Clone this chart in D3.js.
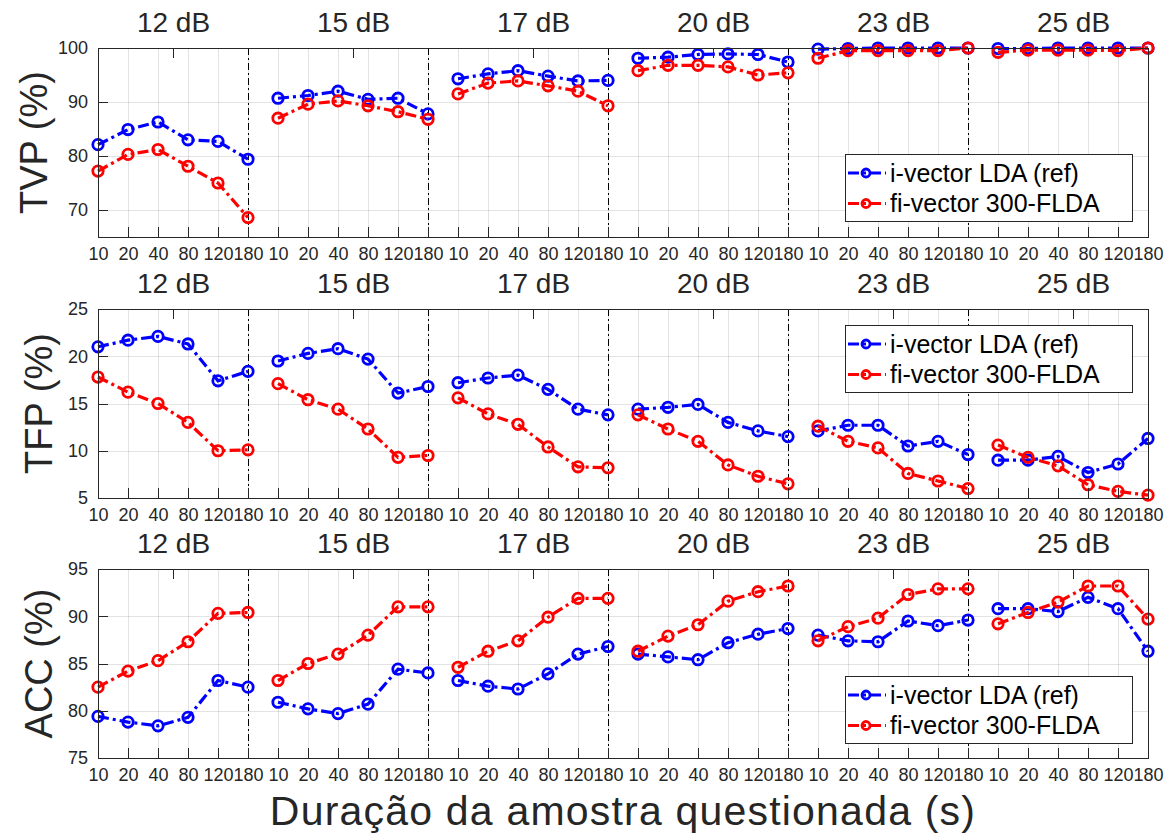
<!DOCTYPE html>
<html lang="pt">
<head>
<meta charset="UTF-8">
<title>TVP, TFP e ACC por SNR e duração</title>
<script src="https://d3js.org/d3.v7.min.js"></script>
<style>
    body { margin: 0; background: #fff; }
    svg { font-family: "Liberation Sans", Arial, Helvetica, sans-serif; }
    .grid line { stroke: #262626; stroke-opacity: 0.13; shape-rendering: crispEdges; }
    .grid path { display: none; }
    .axis path { display: none; }
    .axis line { stroke: #262626; shape-rendering: crispEdges; }
    .axis text { fill: #262626; font-size: 18px; }
    .title-axis text { font-size: 28px; }
    .box { fill: none; stroke: #262626; stroke-width: 1; shape-rendering: crispEdges; }
    .sep { stroke: #000; stroke-width: 1; stroke-dasharray: 7,3,2,3; shape-rendering: crispEdges; }
    .series { fill: none; stroke-width: 3.2; stroke-dasharray: 11,4,3,4; }
    .marker { fill: none; stroke-width: 2.8; }
    .ylabel, .xlabel { fill: #262626; }
    .legend text { font-size: 25px; fill: #000; }
</style>
</head>
<body>
<svg width="1168" height="834"></svg>
<script>
    // categories
    var snrLabels = ["12 dB", "15 dB", "17 dB", "20 dB", "23 dB", "25 dB"];
    var durations = [10, 20, 40, 80, 120, 180];
    var seriesNames = ["i-vector LDA (ref)", "fi-vector 300-FLDA"];
    var seriesColors = ["#0000ff", "#ff0000"];

    // TVP (%) - one row per SNR, one value per duration
    var tvpRef = [
        [82.1, 84.9, 86.3, 83.0, 82.7, 79.4],
        [90.7, 91.2, 92.0, 90.5, 90.7, 87.8],
        [94.3, 95.2, 95.8, 94.8, 93.9, 94.0],
        [98.1, 98.3, 98.8, 98.9, 98.8, 97.4],
        [99.8, 99.9, 100, 100, 100, 100],
        [99.9, 99.9, 100, 100, 100, 100]
    ];
    var tvpFi = [
        [77.2, 80.3, 81.2, 78.1, 75.0, 68.6],
        [87.0, 89.6, 90.2, 89.3, 88.2, 86.8],
        [91.5, 93.5, 93.9, 93.0, 92.0, 89.3],
        [95.8, 96.8, 96.8, 96.5, 95.0, 95.4],
        [98.1, 99.5, 99.5, 99.5, 99.5, 100],
        [99.2, 99.6, 99.6, 99.6, 99.5, 100]
    ];

    // TFP (%)
    var tfpRef = [
        [21.0, 21.7, 22.1, 21.3, 17.4, 18.4],
        [19.5, 20.3, 20.8, 19.7, 16.1, 16.8],
        [17.2, 17.7, 18.0, 16.5, 14.4, 13.8],
        [14.4, 14.6, 14.9, 13.0, 12.1, 11.5],
        [12.1, 12.7, 12.7, 10.5, 11.0, 9.6],
        [9.0, 9.0, 9.4, 7.7, 8.6, 11.3]
    ];
    var tfpFi = [
        [17.8, 16.2, 15.0, 13.0, 10.0, 10.1],
        [17.1, 15.4, 14.4, 12.3, 9.3, 9.5],
        [15.6, 13.9, 12.8, 10.4, 8.3, 8.2],
        [13.8, 12.3, 11.0, 8.5, 7.3, 6.5],
        [12.6, 11.0, 10.3, 7.6, 6.8, 6.0],
        [10.6, 9.3, 8.4, 6.4, 5.7, 5.3]
    ];

    // ACC (%)
    var accRef = [
        [79.4, 78.8, 78.4, 79.3, 83.2, 82.5],
        [80.9, 80.2, 79.7, 80.7, 84.4, 84.0],
        [83.2, 82.6, 82.3, 83.9, 86.0, 86.8],
        [86.0, 85.7, 85.4, 87.2, 88.1, 88.7],
        [88.0, 87.4, 87.3, 89.5, 89.0, 89.6],
        [90.8, 90.8, 90.5, 92.0, 90.8, 86.3]
    ];
    var accFi = [
        [82.5, 84.2, 85.3, 87.3, 90.3, 90.4],
        [83.2, 85.0, 86.0, 88.0, 91.0, 91.0],
        [84.6, 86.3, 87.4, 89.9, 91.9, 91.9],
        [86.3, 87.9, 89.1, 91.6, 92.6, 93.2],
        [87.4, 88.9, 89.8, 92.3, 92.9, 92.9],
        [89.2, 90.4, 91.5, 93.2, 93.2, 89.7]
    ];

    // y axes
    var tvpDomain = [65, 100], tvpTicks = [70, 80, 90, 100];
    var tfpDomain = [5, 25], tfpTicks = [5, 10, 15, 20, 25];
    var accDomain = [75, 95], accTicks = [75, 80, 85, 90, 95];

    var panels = [
        {label: "TVP (%)", domain: tvpDomain, ticks: tvpTicks, series: [tvpRef, tvpFi], top: 48, labelX: 47, legendY: 106},
        {label: "TFP (%)", domain: tfpDomain, ticks: tfpTicks, series: [tfpRef, tfpFi], top: 309, labelX: 52, legendY: 16},
        {label: "ACC (%)", domain: accDomain, ticks: accTicks, series: [accRef, accFi], top: 569, labelX: 52, legendY: 107}
    ];

    var left = 98, right = 1148, panelH = 189;
    var nPoints = snrLabels.length * durations.length;

    var svg = d3.select("svg");

    var x = d3.scaleLinear().domain([0, nPoints - 1]).range([left, right]);
    var allIdx = d3.range(nPoints);
    var groupCenters = snrLabels.map(function(d, g) { return g * durations.length + (durations.length - 1) / 2; });
    var sepIdx = d3.range(1, snrLabels.length).map(function(g) { return g * durations.length - 1; });

    panels.forEach(function(p) {
        var g = svg.append("g").attr("transform", "translate(0," + p.top + ")");
        var y = d3.scaleLinear().domain(p.domain).range([panelH, 0]);

        // grid
        g.append("g").attr("class", "grid")
            .attr("transform", "translate(0," + panelH + ")")
            .call(d3.axisBottom(x).tickValues(allIdx).tickSize(-panelH).tickFormat(""));
        g.append("g").attr("class", "grid")
            .attr("transform", "translate(" + left + ",0)")
            .call(d3.axisLeft(y).tickValues(p.ticks).tickSize(-(right - left)).tickFormat(""));

        // group separators
        g.selectAll(".sep").data(sepIdx).enter().append("line")
            .attr("class", "sep")
            .attr("x1", function(d) { return x(d); })
            .attr("x2", function(d) { return x(d); })
            .attr("y1", 0).attr("y2", panelH);

        // series, one segment per SNR group
        var line = d3.line()
            .x(function(d) { return x(d.i); })
            .y(function(d) { return y(d.v); });

        p.series.forEach(function(rows, s) {
            rows.forEach(function(row, gi) {
                var pts = row.map(function(v, k) { return {i: gi * durations.length + k, v: v}; });
                g.append("path").datum(pts)
                    .attr("class", "series")
                    .attr("stroke", seriesColors[s])
                    .attr("d", line);
                g.selectAll(null).data(pts).enter().append("circle")
                    .attr("class", "marker")
                    .attr("stroke", seriesColors[s])
                    .attr("cx", function(d) { return x(d.i); })
                    .attr("cy", function(d) { return y(d.v); })
                    .attr("r", 5.2);
            });
        });

        // axes
        g.append("g").attr("class", "axis")
            .attr("transform", "translate(0," + panelH + ")")
            .call(d3.axisBottom(x).tickValues(allIdx).tickSizeInner(-10).tickSizeOuter(0).tickPadding(10)
                .tickFormat(function(d) { return durations[d % durations.length]; }));
        g.append("g").attr("class", "axis")
            .attr("transform", "translate(" + left + ",0)")
            .call(d3.axisLeft(y).tickValues(p.ticks).tickSizeInner(-10).tickSizeOuter(0).tickPadding(10));
        g.append("g").attr("class", "axis title-axis")
            .call(d3.axisTop(x).tickValues(groupCenters).tickSizeInner(-10).tickSizeOuter(0).tickPadding(16)
                .tickFormat(function(d, i) { return snrLabels[i]; }));

        g.append("rect").attr("class", "box")
            .attr("x", left).attr("y", 0)
            .attr("width", right - left).attr("height", panelH);

        // y label
        g.append("text").attr("class", "ylabel")
            .attr("transform", "translate(" + p.labelX + "," + (panelH / 2) + ") rotate(-90)")
            .attr("text-anchor", "middle")
            .style("font-size", "38px")
            .text(p.label);

        // legend
        var lg = g.append("g").attr("class", "legend")
            .attr("transform", "translate(845," + p.legendY + ")");
        lg.append("rect")
            .attr("width", 287).attr("height", 67)
            .attr("fill", "#fff").attr("stroke", "#262626").attr("stroke-width", 1)
            .attr("shape-rendering", "crispEdges");
        seriesNames.forEach(function(name, s) {
            var cy = 19 + s * 30.5;
            lg.append("line")
                .attr("class", "series")
                .attr("stroke", seriesColors[s])
                .attr("x1", 3).attr("x2", 41).attr("y1", cy).attr("y2", cy);
            lg.append("circle")
                .attr("class", "marker")
                .attr("stroke", seriesColors[s])
                .attr("cx", 21).attr("cy", cy).attr("r", 4);
            lg.append("text")
                .attr("x", 45).attr("y", cy).attr("dy", "0.35em")
                .text(name);
        });
    });

    // x label
    svg.append("text").attr("class", "xlabel")
        .attr("x", (left + right) / 2).attr("y", 825)
        .attr("text-anchor", "middle")
        .style("font-size", "41px")
        .style("letter-spacing", "1.2px")
        .text("Duração da amostra questionada (s)");
</script>
</body>
</html>
